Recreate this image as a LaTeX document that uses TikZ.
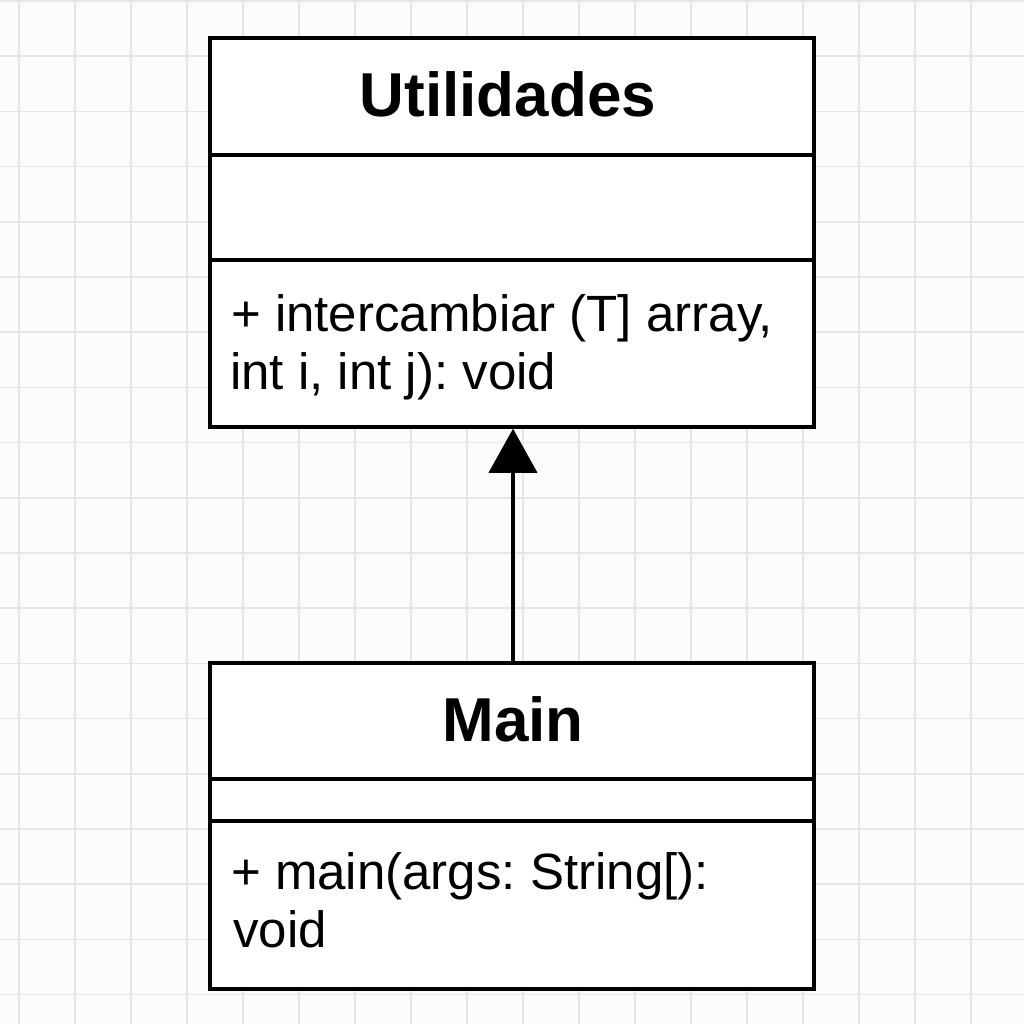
\documentclass[tikz,border=0pt]{standalone}
\usepackage{fontspec}
\setmainfont{Liberation Sans}
\usetikzlibrary{arrows.meta}
\definecolor{bgc}{HTML}{FBFBFB}
\definecolor{gridc}{HTML}{E6E6E6}
\frenchspacing
\tikzset{
  classbox/.style={draw=black, line width=3.5pt, fill=white, inner sep=0pt, minimum width=604pt},
  divider/.style={draw=black, line width=3.2pt},
  titletext/.style={font=\fontsize{62}{70}\selectfont\bfseries, inner sep=0pt, anchor=base},
  methtext/.style={font=\fontsize{51}{58}\selectfont, inner sep=0pt, anchor=base west},
  inherit/.style={draw=black, line width=3.8pt, -{Triangle[length=44pt,width=48pt]}}
}
\begin{document}
\begin{tikzpicture}[x=1pt,y=-1pt]
\useasboundingbox (0,0) rectangle (1024,1024);
\fill[bgc] (0,0) rectangle (1024,1024);
\foreach \k in {0,...,17} {
  \draw[gridc, line width=1.5pt] ({19+56*\k},0) -- ({19+56*\k},1024);
}
\foreach \k in {0,...,18} {
  \draw[gridc, line width=1.5pt] (0,{1+55.2*\k}) -- (1024,{1+55.2*\k});
}
% Utilidades class
\node[classbox, minimum height=389pt] (util) at (512,232.5) {};
\draw[divider] (util.west |- 0,155) coordinate (u1a) -- (util.east |- 0,155) coordinate (u1b);
\draw[divider] (util.west |- 0,260) coordinate (u2a) -- (util.east |- 0,260) coordinate (u2b);
\node[titletext] (utitle) at (508,117) {Utilidades};
\node[methtext] (um1) at (231,331) {+ intercambiar (T] array,};
\node[methtext] (um2) at (230,389) {int i, int j): void};
% Main class
\node[classbox, minimum height=326pt] (main) at (512,826) {};
\draw[divider] (main.west |- 0,779) coordinate (m1a) -- (main.east |- 0,779) coordinate (m1b);
\draw[divider] (main.west |- 0,821) coordinate (m2a) -- (main.east |- 0,821) coordinate (m2b);
\node[titletext] (mtitle) at (513,741) {Main};
\node[methtext] (mm1) at (231,889) {+ main(args: String[):};
\node[methtext] (mm2) at (233,947) {void};
% inheritance arrow
\draw[inherit] ([xshift=1pt]main.north) -- ([xshift=1pt]util.south);
\end{tikzpicture}
\end{document}
